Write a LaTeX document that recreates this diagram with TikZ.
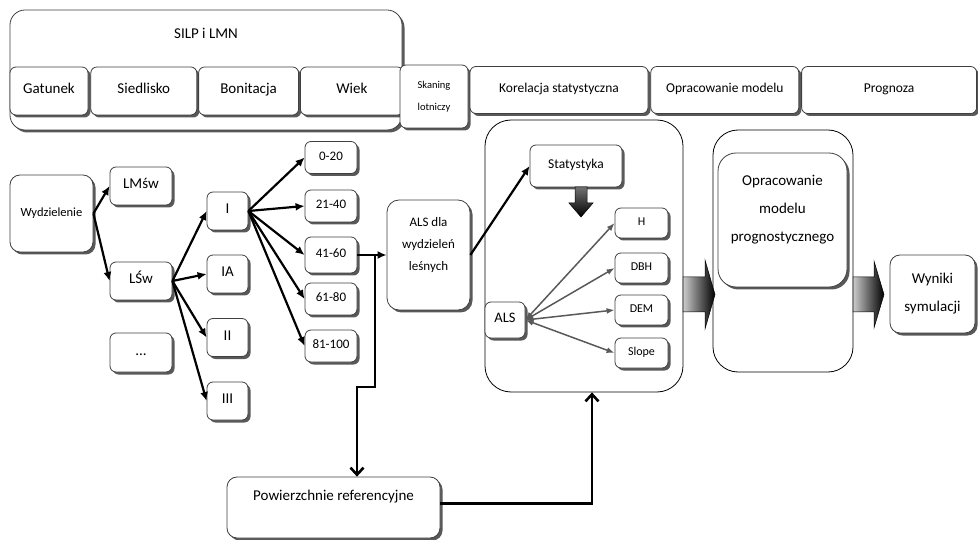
\documentclass[tikz,border=0pt]{standalone}
\usepackage{fontspec}
\setmainfont{Carlito}
\usetikzlibrary{positioning,shadows,arrows.meta,calc}

\begin{document}
\begin{tikzpicture}[x=1pt,y=-1pt]
\useasboundingbox (0,0) rectangle (978,540);
\tikzset{BoxStyle/.style = 
	{shape = rectangle,
		rounded corners = 6pt,
		draw = black!75,
		fill = white,
		line width = 0.8pt,
		drop shadow = {shadow xshift=2.5pt, shadow yshift=-2.5pt, fill=black!65, opacity=1},
	%	shading = ball,
		inner sep = 1pt,
		align = center},
	FrameStyle/.style = 
	{shape = rectangle,
		rounded corners = 26pt,
		draw = black,
		line width = 0.8pt},
	OneLine/.style = {text height = 1.5ex, text depth = 0.45ex},
	BigFont/.style = {font = \fontsize{15}{28}\selectfont},
	MidFont/.style = {font = \fontsize{13.5}{22}\selectfont},
	SmallFont/.style = {font = \fontsize{12}{14}\selectfont},
	EdgeStyle/.style = {line width = 2.2pt, -{Latex[length=9pt,width=8pt]}},
	LinkStyle/.style = {line width = 2.6pt, -{Straight Barb[length=7pt,width=13pt]}},
	GrayStyle/.style = {draw = black!65, line width = 1.5pt,
		{Latex[length=8pt,width=6pt]}-{Latex[length=8pt,width=6pt]}},
	BlockStyle/.style = {draw = black, line width = 0.5pt}}

\node[BoxStyle, rounded corners = 15pt, minimum width = 392pt, minimum height = 120pt] (silp) at (206,70) {};
\node[BigFont] (silptext) at (206,33) {SILP i LMN};
\node[BoxStyle, BigFont, OneLine, minimum width = 78pt, minimum height = 48pt] (gatunek) at (49,91) {Gatunek};
\node[BoxStyle, BigFont, OneLine, minimum width = 106pt, minimum height = 48pt, right = 2pt of gatunek] (siedlisko) {Siedlisko};
\node[BoxStyle, BigFont, OneLine, minimum width = 100pt, minimum height = 48pt, right = 1pt of siedlisko] (bonitacja) {Bonitacja};
\node[BoxStyle, BigFont, OneLine, minimum width = 103pt, minimum height = 48pt, right = 1pt of bonitacja] (wiek) {Wiek};
\node[BoxStyle, font = \fontsize{10.5}{22}\selectfont, minimum width = 68pt, minimum height = 63pt] (skaning) at (434,96.5) {Skaning\\lotniczy};
\node[BoxStyle, MidFont, OneLine, minimum width = 178pt, minimum height = 47pt] (korelacja) at (559,90) {Korelacja statystyczna};
\node[BoxStyle, MidFont, OneLine, minimum width = 148pt, minimum height = 47pt, right = 2pt of korelacja] (opracowanie) {Opracowanie modelu};
\node[BoxStyle, MidFont, OneLine, minimum width = 175pt, minimum height = 47pt, right = 2pt of opracowanie] (prognoza) {Prognoza};

\node[BoxStyle, font = \fontsize{12.5}{15}\selectfont, OneLine, rounded corners = 10pt, minimum width = 83pt, minimum height = 77pt] (wydzielenie) at (51.5,213.5) {Wydzielenie};
\node[BoxStyle, BigFont, OneLine, minimum width = 62pt, minimum height = 38pt] (lmsw) at (141,186) {LMśw};
\node[BoxStyle, BigFont, OneLine, minimum width = 62pt, minimum height = 38pt] (lsw) at (141,281) {LŚw};
\node[BoxStyle, BigFont, OneLine, minimum width = 62pt, minimum height = 39pt] (inne) at (141,352.5) {...};
\node[BoxStyle, BigFont, OneLine, minimum width = 41pt, minimum height = 38pt] (b1) at (227.5,211) {I};
\node[BoxStyle, BigFont, OneLine, minimum width = 41pt, minimum height = 38pt] (b1a) at (227.5,274) {IA};
\node[BoxStyle, BigFont, OneLine, minimum width = 41pt, minimum height = 38pt] (b2) at (227.5,337.5) {II};
\node[BoxStyle, BigFont, OneLine, minimum width = 41pt, minimum height = 38pt] (b3) at (227.5,401) {III};
\node[BoxStyle, font = \fontsize{13}{15}\selectfont, OneLine, minimum width = 52pt, minimum height = 32pt] (w0020) at (331,157.5) {0-20};
\node[BoxStyle, font = \fontsize{13}{15}\selectfont, OneLine, minimum width = 52pt, minimum height = 32pt] (w2140) at (331,206) {21-40};
\node[BoxStyle, font = \fontsize{13}{15}\selectfont, OneLine, minimum width = 52pt, minimum height = 36pt] (w4160) at (331,255) {41-60};
\node[BoxStyle, font = \fontsize{13}{15}\selectfont, OneLine, minimum width = 52pt, minimum height = 32pt] (w6180) at (331,299) {61-80};
\node[BoxStyle, font = \fontsize{13}{15}\selectfont, OneLine, minimum width = 52pt, minimum height = 32pt] (w81100) at (331,346) {81-100};

\node[BoxStyle, rounded corners = 12pt, minimum width = 83pt, minimum height = 110pt] (alsdla) at (428.5,255) {};
\node[font = \fontsize{13}{22}\selectfont, align = center] (alsdlatext) at (428.5,245) {ALS dla\\wydzieleń\\leśnych};
\node[BoxStyle, rounded corners = 10pt, minimum width = 213pt, minimum height = 61pt] (powierzchnie) at (333.5,507.5) {};
\node[BigFont] (powtext) at (333.5,497) {Powierzchnie referencyjne};

\node[FrameStyle, minimum width = 198pt, minimum height = 272pt] (korframe) at (584,256) {};
\node[BoxStyle, MidFont, OneLine, minimum width = 92pt, minimum height = 42pt] (statystyka) at (576,166) {Statystyka};
\node[BoxStyle, SmallFont, OneLine, minimum width = 53pt, minimum height = 30pt] (hh) at (641.5,223) {H};
\node[BoxStyle, SmallFont, OneLine, minimum width = 53pt, minimum height = 30pt] (dbh) at (641.5,268) {DBH};
\node[BoxStyle, SmallFont, OneLine, minimum width = 53pt, minimum height = 30pt] (dem) at (641.5,310) {DEM};
\node[BoxStyle, SmallFont, OneLine, minimum width = 53pt, minimum height = 30pt] (slope) at (641.5,353) {Slope};
\node[BoxStyle, font = \fontsize{14.5}{16}\selectfont, OneLine, minimum width = 40pt, minimum height = 36pt] (als) at (505,320) {ALS};

\node[FrameStyle, rounded corners = 25pt, minimum width = 140pt, minimum height = 242pt] (modframe) at (783,251) {};
\node[BoxStyle, rounded corners = 18pt, minimum width = 129pt, minimum height = 134pt] (model) at (782.5,220) {};
\node[BigFont, align = center] (modeltext) at (782.5,210) {Opracowanie\\modelu\\prognostycznego};
\node[BoxStyle, BigFont, rounded corners = 10pt, minimum width = 85pt, minimum height = 78pt] (wyniki) at (932.5,294) {Wyniki\\symulacji};

\shade[BlockStyle, left color = black!20, middle color = black!90, right color = black] (683,277) -- (705,277) -- (705,260) -- (715,294.5) -- (705,329) -- (705,312) -- (683,312) -- cycle;
\shade[BlockStyle, left color = black!20, middle color = black!90, right color = black] (853,277) -- (874,277) -- (874,261) -- (884,294.5) -- (874,328) -- (874,312) -- (853,312) -- cycle;
\shade[BlockStyle, top color = black!55, middle color = black!90, bottom color = black] (575,187) -- (587,187) -- (587,203) -- (593,203) -- (581,217) -- (569,203) -- (575,203) -- cycle;

\coordinate (split) at ($(w4160.east)!0.6!(alsdla.west)$);
\coordinate (jog) at (357,387);
\draw[EdgeStyle] (wydzielenie.east) -- (lmsw.west);
\draw[EdgeStyle] (wydzielenie.east) -- (lsw.west);
\foreach \b in {b1,b1a,b2,b3}
	\draw[EdgeStyle] (lsw.east) -- (\b.west);
\foreach \w in {w0020,w2140,w4160,w6180,w81100}
	\draw[EdgeStyle] (b1.east) -- (\w.west);
\draw[EdgeStyle] (w4160.east) -- (alsdla.west);
\draw[EdgeStyle] (alsdla.east) -- (statystyka.west);
\draw[LinkStyle] (split) |- (jog) -- (jog |- powierzchnie.north);
\draw[LinkStyle] ([yshift=4pt]powierzchnie.east) -| ([xshift=8pt]korframe.south);
\foreach \p in {hh,dbh,dem,slope}
	\draw[GrayStyle] (als.east) -- (\p.west);
%	\draw[EdgeStyle] (statystyka.south) -- (dbh.north);
\end{tikzpicture}
\end{document}
